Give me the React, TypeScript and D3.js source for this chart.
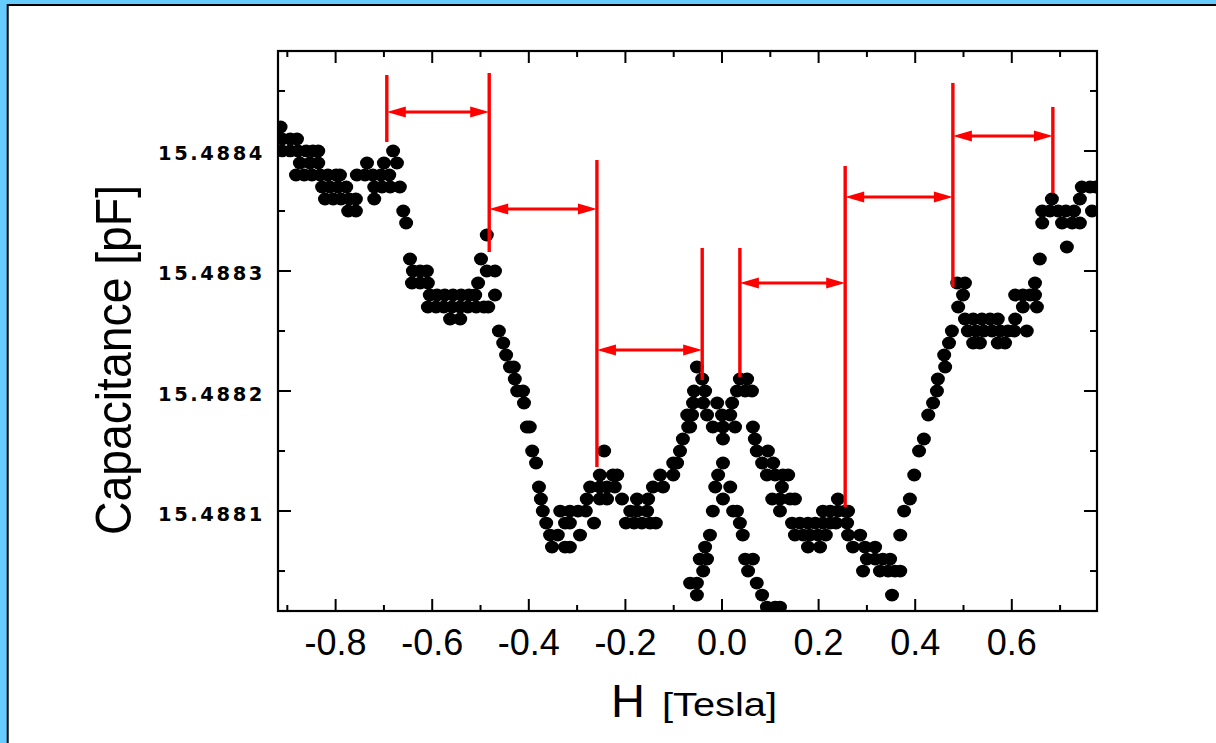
import React from 'react';
import * as d3 from 'd3';

// field H [T], capacitance [pF], one entry per dot
const leftPlateau: [number, number][] = [
  [-0.914, 15.48842],
  [-0.911, 15.48841], [-0.894, 15.48841], [-0.880, 15.48841],
  [-0.911, 15.4884], [-0.894, 15.4884], [-0.878, 15.4884], [-0.861, 15.4884], [-0.847, 15.4884], [-0.836, 15.4884], [-0.681, 15.4884],
  [-0.874, 15.48839], [-0.853, 15.48839], [-0.836, 15.48839], [-0.735, 15.48839], [-0.700, 15.48839], [-0.673, 15.48839],
  [-0.882, 15.48838], [-0.865, 15.48838], [-0.849, 15.48838], [-0.832, 15.48838], [-0.816, 15.48838], [-0.799, 15.48838],
  [-0.791, 15.48838], [-0.756, 15.48838], [-0.739, 15.48838], [-0.723, 15.48838], [-0.706, 15.48838], [-0.689, 15.48838],
  [-0.828, 15.48837], [-0.812, 15.48837], [-0.795, 15.48837], [-0.778, 15.48837], [-0.720, 15.48837], [-0.704, 15.48837], [-0.687, 15.48837], [-0.667, 15.48837],
  [-0.822, 15.48836], [-0.805, 15.48836], [-0.789, 15.48836], [-0.772, 15.48836], [-0.758, 15.48836], [-0.720, 15.48836],
  [-0.774, 15.48835], [-0.758, 15.48835], [-0.660, 15.48835],
  [-0.654, 15.48834],
];

const secondPlateau: [number, number][] = [
  [-0.646, 15.48831], [-0.640, 15.4883], [-0.625, 15.4883], [-0.611, 15.4883],
  [-0.642, 15.48829], [-0.625, 15.48829], [-0.609, 15.48829],
  [-0.605, 15.48828], [-0.590, 15.48828], [-0.574, 15.48828], [-0.557, 15.48828], [-0.540, 15.48828], [-0.524, 15.48828], [-0.511, 15.48828],
  [-0.609, 15.48827], [-0.592, 15.48827], [-0.576, 15.48827], [-0.559, 15.48827], [-0.542, 15.48827], [-0.526, 15.48827],
  [-0.509, 15.48827], [-0.493, 15.48827], [-0.484, 15.48827],
  [-0.563, 15.48826], [-0.542, 15.48826],
  [-0.505, 15.48829], [-0.499, 15.48831], [-0.487, 15.48833], [-0.487, 15.4883], [-0.470, 15.4883], [-0.470, 15.48828],
];

const leftDescent: [number, number][] = [
  [-0.462, 15.48825], [-0.453, 15.48824], [-0.447, 15.48823], [-0.439, 15.48822], [-0.431, 15.48822], [-0.429, 15.48821],
  [-0.424, 15.4882], [-0.412, 15.4882], [-0.410, 15.48819], [-0.404, 15.48817], [-0.398, 15.48817], [-0.393, 15.48815],
  [-0.385, 15.48814], [-0.379, 15.48812], [-0.375, 15.48811], [-0.371, 15.4881], [-0.364, 15.48809],
  [-0.356, 15.48808], [-0.340, 15.48808], [-0.294, 15.48808],
  [-0.352, 15.48807], [-0.325, 15.48807], [-0.315, 15.48807],
];

const leftBasin: [number, number][] = [
  [-0.335, 15.4881], [-0.315, 15.4881], [-0.298, 15.4881], [-0.282, 15.4881], [-0.190, 15.4881], [-0.176, 15.4881], [-0.155, 15.4881],
  [-0.325, 15.48809], [-0.315, 15.48809], [-0.265, 15.48809], [-0.199, 15.48809], [-0.182, 15.48809], [-0.166, 15.48809], [-0.149, 15.48809], [-0.137, 15.48809],
  [-0.280, 15.48811], [-0.253, 15.48811], [-0.238, 15.48811], [-0.207, 15.48811], [-0.176, 15.48811], [-0.153, 15.48811],
  [-0.273, 15.48812], [-0.253, 15.48812], [-0.238, 15.48812], [-0.222, 15.48812],
  [-0.253, 15.48813], [-0.226, 15.48813], [-0.217, 15.48813],
  [-0.244, 15.48815],
];

const leftPeakRise: [number, number][] = [
  [-0.143, 15.48812], [-0.122, 15.48812],
  [-0.128, 15.48813], [-0.101, 15.48813],
  [-0.101, 15.48814], [-0.093, 15.48814],
  [-0.087, 15.48815], [-0.081, 15.48816],
  [-0.070, 15.48817], [-0.066, 15.48817],
  [-0.072, 15.48818], [-0.062, 15.48818],
  [-0.060, 15.48819], [-0.039, 15.48819],
  [-0.058, 15.4882], [-0.035, 15.4882],
  [-0.041, 15.48821], [-0.052, 15.48822],
];

const centreCross: [number, number][] = [
  [-0.010, 15.48819], [0.021, 15.48819],
  [-0.031, 15.48818], [0.000, 15.48818], [0.017, 15.48818],
  [-0.019, 15.48817], [0.002, 15.48817], [0.027, 15.48817],
  [0.002, 15.48816], [0.002, 15.48814], [-0.008, 15.48813],
  [-0.014, 15.48812], [0.017, 15.48812],
  [0.002, 15.48811],
  [-0.019, 15.4881], [0.023, 15.4881], [0.031, 15.4881],
  [0.037, 15.48809],
  [-0.025, 15.48808], [0.043, 15.48808],
  [-0.035, 15.48807],
  [-0.046, 15.48806], [-0.031, 15.48806], [0.048, 15.48806], [0.064, 15.48806],
  [-0.039, 15.48805], [0.054, 15.48805],
  [-0.066, 15.48804], [-0.052, 15.48804], [0.072, 15.48804],
  [-0.052, 15.48803], [0.083, 15.48803],
  [0.093, 15.48802], [0.110, 15.48802], [0.120, 15.48802],
];

const rightPeakFall: [number, number][] = [
  [0.037, 15.48821], [0.052, 15.48821],
  [0.031, 15.4882], [0.048, 15.4882], [0.062, 15.4882],
  [0.064, 15.48817], [0.068, 15.48816],
  [0.072, 15.48815], [0.095, 15.48815],
  [0.083, 15.48814], [0.106, 15.48814],
  [0.093, 15.48813], [0.110, 15.48813], [0.126, 15.48813], [0.137, 15.48813],
  [0.124, 15.48812],
  [0.104, 15.48811], [0.120, 15.48811], [0.141, 15.48811], [0.151, 15.48811],
  [0.120, 15.4881],
];

const rightBasin: [number, number][] = [
  [0.145, 15.48809], [0.161, 15.48809], [0.178, 15.48809], [0.193, 15.48809], [0.209, 15.48809], [0.224, 15.48809], [0.236, 15.48809], [0.259, 15.48809],
  [0.151, 15.48808], [0.168, 15.48808], [0.182, 15.48808], [0.199, 15.48808], [0.215, 15.48808], [0.261, 15.48808], [0.286, 15.48808],
  [0.178, 15.48807], [0.203, 15.48807], [0.271, 15.48807], [0.296, 15.48807], [0.317, 15.48807],
  [0.300, 15.48806], [0.317, 15.48806], [0.333, 15.48806], [0.348, 15.48806],
  [0.292, 15.48805], [0.327, 15.48805], [0.344, 15.48805], [0.358, 15.48805], [0.369, 15.48805],
  [0.352, 15.48803],
  [0.240, 15.48811],
  [0.209, 15.4881], [0.224, 15.4881], [0.240, 15.4881], [0.255, 15.4881], [0.261, 15.4881],
];

const rightRise: [number, number][] = [
  [0.369, 15.48808], [0.377, 15.4881], [0.389, 15.48811], [0.398, 15.48813], [0.408, 15.48815], [0.418, 15.48816],
  [0.427, 15.48818], [0.437, 15.48819], [0.445, 15.4882], [0.447, 15.48821], [0.462, 15.48822], [0.460, 15.48823],
  [0.470, 15.48824], [0.476, 15.48825], [0.489, 15.48827], [0.499, 15.48828], [0.487, 15.48829], [0.503, 15.48829],
];

const rightPlateau: [number, number][] = [
  [0.503, 15.48826], [0.520, 15.48826], [0.538, 15.48826], [0.555, 15.48826], [0.571, 15.48826], [0.607, 15.48826],
  [0.509, 15.48825], [0.526, 15.48825], [0.542, 15.48825], [0.559, 15.48825], [0.576, 15.48825], [0.592, 15.48825], [0.605, 15.48825], [0.631, 15.48825],
  [0.520, 15.48824], [0.534, 15.48824], [0.571, 15.48824], [0.586, 15.48824],
  [0.607, 15.48828], [0.623, 15.48828], [0.638, 15.48828], [0.648, 15.48828],
  [0.623, 15.48827], [0.652, 15.48827],
  [0.648, 15.48829], [0.658, 15.48831],
  [0.663, 15.48835], [0.679, 15.48835], [0.696, 15.48835], [0.712, 15.48835], [0.729, 15.48835], [0.766, 15.48835],
  [0.663, 15.48834], [0.704, 15.48834], [0.725, 15.48834], [0.741, 15.48834],
  [0.683, 15.48836], [0.741, 15.48836],
  [0.714, 15.48832],
  [0.745, 15.48837], [0.762, 15.48837], [0.774, 15.48837],
];

// red period markers: field, top and bottom capacitance
const markers: [number, number, number][] = [
  [-0.694, 15.4884633, 15.4884075],
  [-0.482, 15.488465, 15.4883158],
  [-0.259, 15.4883925, 15.4881367],
  [-0.041, 15.4883192, 15.4882092],
  [0.037, 15.4883192, 15.4882117],
  [0.255, 15.4883875, 15.4881033],
  [0.478, 15.4884567, 15.4882867],
  [0.685, 15.4884367, 15.488365],
];

// double arrows: from field, to field, at capacitance
const spans: [number, number, number][] = [
  [-0.694, -0.482, 15.4884325],
  [-0.482, -0.259, 15.4883517],
  [-0.259, -0.041, 15.4882342],
  [0.037, 0.255, 15.48829],
  [0.255, 0.478, 15.4883617],
  [0.478, 0.685, 15.4884125],
];

const xTickSteps = d3.range(-9, 8);  // tenths of a tesla
const yTickSteps = d3.range(1, 10);  // 0.00005 pF steps above 15.488

export default function App() {
  const x = d3.scaleLinear().domain([-0.9193, 0.7764]).range([278, 1097]);
  const y = d3.scaleLinear().domain([15.4880167, 15.4884833]).range([611, 51]);
  const [x0, x1] = x.range();
  const [y0, y1] = [y.range()[1], y.range()[0]];

  const points = [
    ...leftPlateau, ...secondPlateau, ...leftDescent, ...leftBasin, ...leftPeakRise,
    ...centreCross, ...rightPeakFall, ...rightBasin, ...rightRise, ...rightPlateau,
  ];

  const red = '#ff0000';
  const head = (tx: number, ty: number, dir: number) =>
    `${tx},${ty} ${tx + dir * 19},${ty - 5.5} ${tx + dir * 19},${ty + 5.5}`;

  return (
    <svg width={1216} height={743} style={{ position: 'absolute', left: 0, top: 0, display: 'block' }}>
      <rect width={1216} height={743} fill="#66ccff" />
      <rect x={7.7} y={5} width={1300} height={800} fill="#fff" stroke="#000" strokeWidth={2} />
      <defs>
        <clipPath id="plotArea">
          <rect x={x0} y={y0} width={x1 - x0} height={y1 - y0} />
        </clipPath>
      </defs>

      <g clipPath="url(#plotArea)">
        {points.map(([h, c], i) => (
          <ellipse key={i} cx={x(h)} cy={y(c)} rx={7} ry={6.4} fill="#000" />
        ))}
      </g>

      {/* ticks, all pointing inwards */}
      <g stroke="#000" strokeWidth={2}>
        {xTickSteps.map(k => {
          const len = k % 2 === 0 ? 12 : 6;
          const px = x(k / 10);
          return (
            <g key={'x' + k}>
              <line x1={px} x2={px} y1={y1} y2={y1 - len} />
              <line x1={px} x2={px} y1={y0} y2={y0 + len} />
            </g>
          );
        })}
        {yTickSteps.map(k => {
          const len = k % 2 === 0 ? 13 : 7;
          const py = y(15.488 + k * 0.00005);
          return (
            <g key={'y' + k}>
              <line x1={x0} x2={x0 + len} y1={py} y2={py} />
              <line x1={x1} x2={x1 - len} y1={py} y2={py} />
            </g>
          );
        })}
      </g>
      <rect x={x0} y={y0} width={x1 - x0} height={y1 - y0} fill="none" stroke="#000" strokeWidth={2.2} />

      <g fontFamily="'Liberation Sans', Arial, sans-serif" fontSize={36} textAnchor="middle" fill="#000">
        {xTickSteps.filter(k => k % 2 === 0).map(k => (
          <text key={k} x={x(k / 10)} y={655}>{(k / 10).toFixed(1)}</text>
        ))}
      </g>
      <g fontFamily="'DejaVu Sans', Verdana, sans-serif" fontWeight="bold" fontSize={19.5} letterSpacing={2.6} textAnchor="end" fill="#000">
        {yTickSteps.filter(k => k % 2 === 0).map(k => {
          const v = 15.488 + k * 0.00005;
          return <text key={k} x={265} y={y(v) + 9.5}>{v.toFixed(4)}</text>;
        })}
      </g>

      <text x={131} y={360} transform="rotate(-90 131 360)" textAnchor="middle"
        fontFamily="'Liberation Sans', Arial, sans-serif" fontSize={50}
        textLength={350} lengthAdjust="spacingAndGlyphs">Capacitance [pF]</text>
      <text x={611} y={717} fontFamily="'Liberation Sans', Arial, sans-serif" fontSize={47}>H</text>
      <text x={662} y={716} fontFamily="'Liberation Sans', Arial, sans-serif" fontSize={33}
        textLength={115} lengthAdjust="spacingAndGlyphs">[Tesla]</text>

      {/* period markers */}
      <g stroke={red} strokeWidth={3.4}>
        {markers.map(([h, top, bottom], i) => (
          <line key={i} x1={x(h)} x2={x(h)} y1={y(top)} y2={y(bottom)} />
        ))}
      </g>
      <g>
        {spans.map(([a, b, c], i) => (
          <g key={i}>
            <line x1={x(a) + 10} x2={x(b) - 10} y1={y(c)} y2={y(c)} stroke={red} strokeWidth={3} />
            <polygon points={head(x(a), y(c), 1)} fill={red} />
            <polygon points={head(x(b), y(c), -1)} fill={red} />
          </g>
        ))}
      </g>
    </svg>
  );
}
